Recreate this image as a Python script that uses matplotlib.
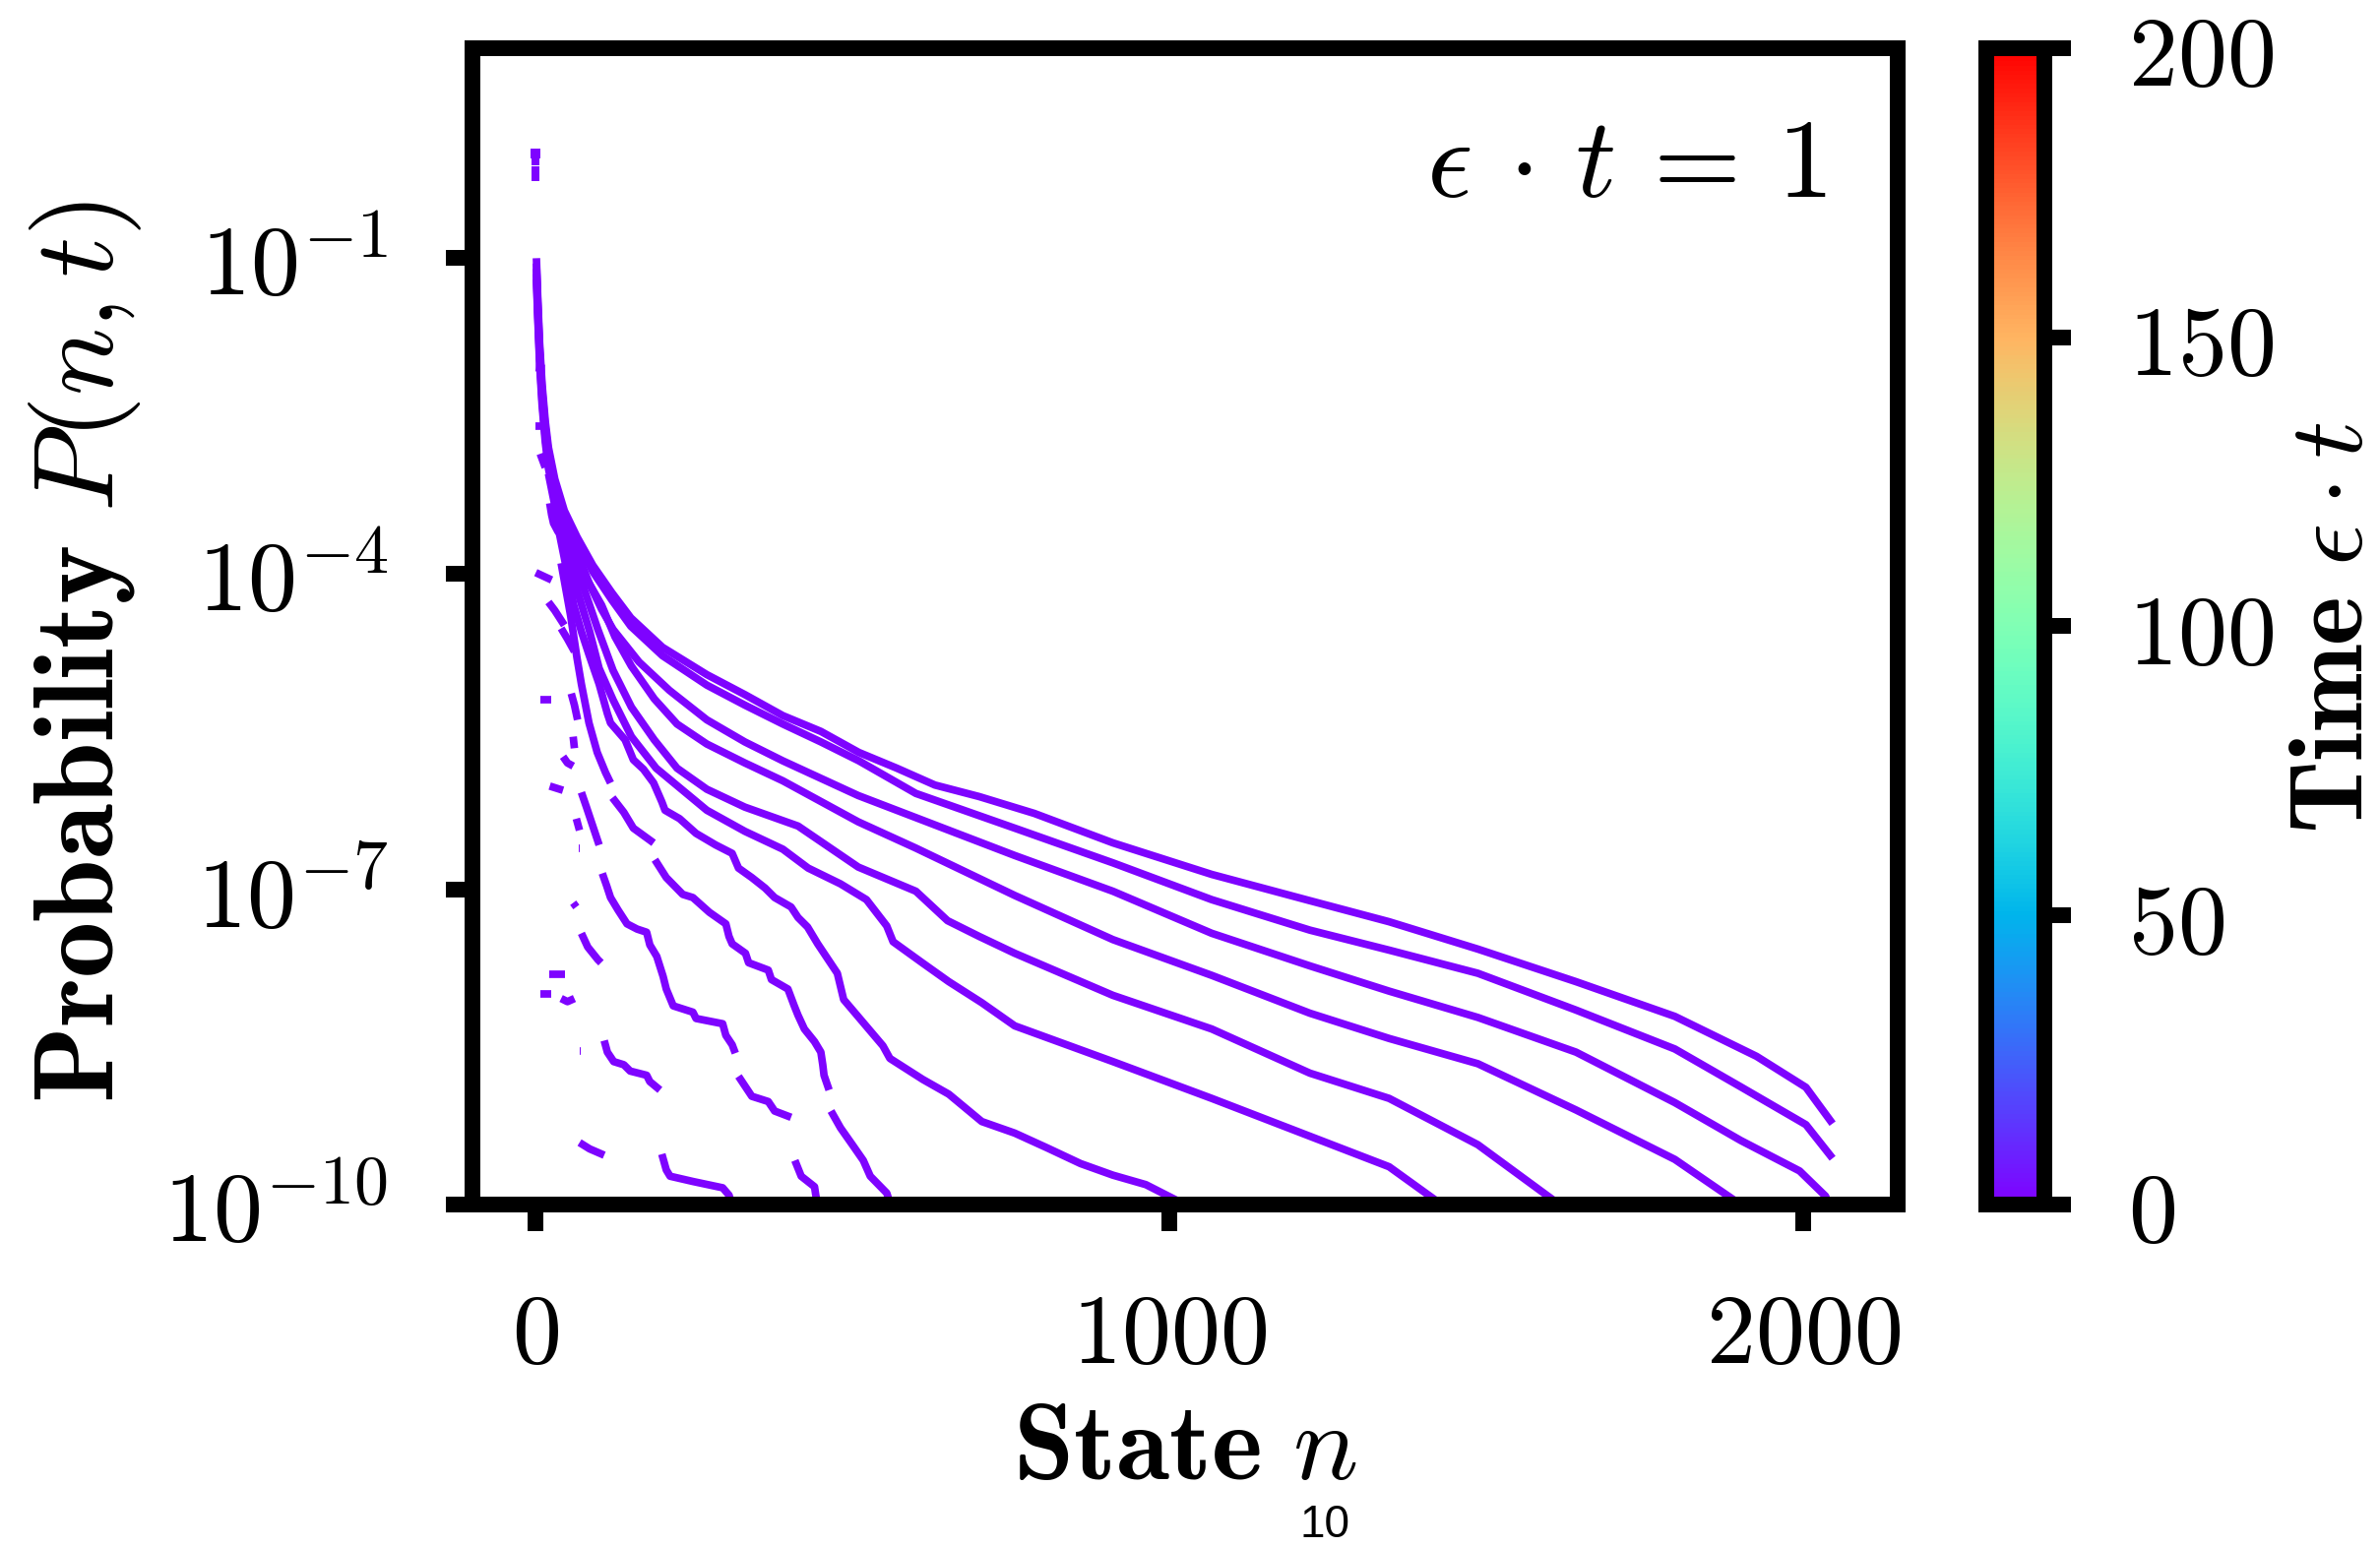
import numpy as np
import matplotlib.pyplot as plt
from matplotlib.cm import ScalarMappable
from matplotlib.colors import Normalize

plt.rcParams['mathtext.fontset'] = 'cm'
plt.rcParams['font.family'] = ['DejaVu Serif']

# time of the snapshot and colour scale range
t_snapshot = 1
t_min, t_max = 0, 200

# curves: (state n, log10 P); None marks a gap between points
curve_a = [(1, -1.0), (3, -1.35), (6, -1.8), (10, -2.2), (15, -2.55), (20, -2.8), (30, -3.1),
           (45, -3.4), (65, -3.65), (90, -3.92), (120, -4.18), (150, -4.42), (200, -4.7), (270, -4.96),
           (330, -5.15), (390, -5.35), (450, -5.5), (510, -5.7), (570, -5.85), (630, -6.01), (700, -6.12),
           (787, -6.28), (911, -6.56), (1067, -6.86), (1222, -7.11), (1347, -7.31), (1487, -7.57),
           (1642, -7.88), (1798, -8.21), (1927, -8.59), (2005, -8.885), (2047, -9.23)]
curve_b = [(1, -1.05), (3, -1.4), (6, -1.85), (10, -2.25), (15, -2.6), (20, -2.85), (30, -3.15),
           (45, -3.45), (65, -3.7), (90, -3.98), (120, -4.25), (150, -4.5), (200, -4.78), (270, -5.06),
           (330, -5.25), (390, -5.43), (450, -5.6), (510, -5.78), (600, -6.09), (756, -6.42), (911, -6.75),
           (1067, -7.1), (1222, -7.39), (1347, -7.58), (1487, -7.8), (1642, -8.15), (1798, -8.52),
           (1902, -8.88), (2005, -9.24), (2047, -9.56)]
curve_c = [(1, -1.1), (3, -1.45), (6, -1.9), (10, -2.3), (15, -2.65), (20, -2.9), (30, -3.2),
           (45, -3.5), (65, -3.8), (85, -4.1), (104, -4.34), (122, -4.53), (163, -4.84), (211, -5.11),
           (270, -5.39), (330, -5.6), (390, -5.78), (509, -6.11), (600, -6.32), (756, -6.68), (911, -7.02),
           (1067, -7.42), (1222, -7.73), (1347, -7.97), (1487, -8.22), (1642, -8.55), (1798, -9.03),
           (1902, -9.39), (1995, -9.68), (2036, -9.92), (2047, -10.1)]
curve_d = [(1, -1.15), (3, -1.5), (6, -1.95), (10, -2.35), (15, -2.7), (20, -2.95), (30, -3.25),
           (45, -3.6), (65, -3.9), (85, -4.1), (104, -4.3), (125, -4.6), (151, -4.88), (187, -5.19),
           (223, -5.43), (270, -5.62), (330, -5.8), (390, -5.97), (509, -6.36), (600, -6.61), (756, -7.06),
           (911, -7.48), (1067, -7.82), (1222, -8.18), (1347, -8.42), (1487, -8.66), (1642, -9.1),
           (1798, -9.57), (1902, -10.0)]
curve_e = [(1, -1.2), (3, -1.55), (6, -2.0), (10, -2.4), (15, -2.75), (20, -3.0), (30, -3.3), (45, -3.65),
           (65, -3.95), (85, -4.3), (98, -4.53), (122, -4.92), (151, -5.27), (187, -5.58), (223, -5.85),
           (270, -6.05), (330, -6.22), (414, -6.4), (509, -6.79), (600, -7.02), (650, -7.3), (700, -7.45),
           (756, -7.61), (911, -8.01), (1067, -8.33), (1222, -8.75), (1347, -8.99), (1487, -9.43),
           (1616, -10.0)]
curve_f = [(20, -3.05), (30, -3.35), (45, -3.75), (65, -4.15), (85, -4.55), (100, -4.9), (122, -5.2),
           (151, -5.55), (190, -5.85), (230, -6.05), (270, -6.25), (330, -6.45), (390, -6.62), (430, -6.8),
           (481, -6.95), (522, -7.1), (554, -7.35), (564, -7.5), (610, -7.7), (652, -7.88), (704, -8.08),
           (756, -8.3), (911, -8.64), (1067, -8.99), (1222, -9.35), (1347, -9.64), (1430, -10.0)]
curve_g = [(30, -3.4), (45, -3.85), (60, -4.3), (72, -4.55), (84, -4.77), (100, -5.05), (113, -5.33),
           (118, -5.42), (141, -5.58), (154, -5.77), (170, -5.86), (186, -5.99), (199, -6.17), (204, -6.25),
           (227, -6.33), (253, -6.47), (284, -6.58), (310, -6.66), (320, -6.8), (341, -6.89), (362, -6.99),
           (377, -7.08), (403, -7.17), (414, -7.27), (429, -7.36), (445, -7.52), (476, -7.8), (486, -8.05),
           (517, -8.27), (548, -8.49), (559, -8.61), (611, -8.81), (652, -8.95), (704, -9.21), (756, -9.32),
           (807, -9.46), (860, -9.61), (911, -9.72), (963, -9.81), (1025, -10.0)]
curve_h = [(40, -3.9), (55, -4.4), (65, -4.8), (72, -5.05), (84, -5.42), (97, -5.7), (110, -5.89),
           (118, -5.99), None, (121, -6.13), (139, -6.27), (154, -6.42), (186, -6.56), None, (188, -6.72),
           (206, -6.89), (232, -7.05), (248, -7.08), (274, -7.22), (300, -7.33), (305, -7.45), (310, -7.52),
           (331, -7.61), (336, -7.7), (367, -7.77), (372, -7.86), (398, -7.95), (408, -8.11), (414, -8.2),
           (424, -8.33), (440, -8.45), (450, -8.55), (453, -8.67), (455, -8.77), (463, -8.91), None,
           (466, -9.11), (481, -9.27), (502, -9.45), (517, -9.58), (528, -9.73), (554, -9.89), (560, -10.0)]
curve_i = [(72, -6.08), (80, -6.22), (90, -6.4), (100, -6.58), None, (105, -6.85), (112, -6.97),
           (118, -7.08), (130, -7.2), (144, -7.33), (160, -7.38), (175, -7.41), (180, -7.53), (191, -7.64),
           (201, -7.83), (206, -7.95), (217, -8.11), (248, -8.17), (253, -8.23), (295, -8.28), (300, -8.39),
           (310, -8.48), (315, -8.56), None, (320, -8.78), (341, -8.97), (367, -9.02), (377, -9.11),
           (403, -9.17), None, (406, -9.28), None, (409, -9.58), (419, -9.73), (440, -9.83), (442, -9.91),
           (445, -10.0)]
curve_j = [(72, -7.42), (82, -7.55), (98, -7.67), (103, -7.7), None, (108, -8.44), (113, -8.55),
           (123, -8.64), (139, -8.67), (149, -8.73), (175, -8.77), (180, -8.83), (196, -8.91), None,
           (199, -9.52), (206, -9.67), (212, -9.73), (248, -9.78), (295, -9.84), (305, -9.91), (310, -10.0)]

# short isolated pieces near n = 0
fragments = [
    [(0, -2.04), (14, -2.05)], [(0, -2.6), (12, -2.6)], [(7, -2.86), (15, -2.99)],
    [(22, -3.33), (25, -3.44), (28, -3.52), (35, -3.6), (40, -3.63)],
    [(0, -3.99), (25, -4.06)], [(20, -4.27), (30, -4.35), (45, -4.49)], [(40, -4.52), (50, -4.62), (61, -4.74)],
    [(7, -5.2), (25, -5.2)], [(56, -5.14), (61, -5.25), (66, -5.39)], [(59, -5.55), (61, -5.66)],
    [(43, -5.74), (50, -5.8), (59, -5.83)], [(22, -6.02), (43, -6.06)], [(64, -6.33), (69, -6.44)],
    [(68, -6.61), (70, -6.61)], [(59, -7.13), (64, -7.17)], [(22, -7.81), (46, -7.81)],
    [(7, -8.0), (25, -8.0)], [(40, -8.04), (50, -8.07), (61, -8.04)], [(69, -8.54), (71, -8.54)],
    [(69, -9.41), (85, -9.47), (108, -9.53)],
]

# values at n = 0
start_logp = [0.0, -0.08, -0.16, -0.23]

x_ticks = [0, 1000, 2000]
x_ticklabels = [r'$0$', r'$1000$', r'$2000$']
y_ticks = [1e-1, 1e-4, 1e-7, 1e-10]
y_ticklabels = [r'$10^{-1}$', r'$10^{-4}$', r'$10^{-7}$', r'$10^{-10}$']
cb_ticks = [0, 50, 100, 150, 200]
cb_ticklabels = [r'$0$', r'$50$', r'$100$', r'$150$', r'$200$']


def to_arrays(points):
    pts = np.array([(np.nan, np.nan) if p is None else p for p in points], dtype=float)
    return pts[:, 0], 10 ** pts[:, 1]


cmap = plt.get_cmap('rainbow')
norm = Normalize(t_min, t_max)
color = cmap(norm(t_snapshot))

fig = plt.figure(figsize=(8.06, 5.243), dpi=300)
ax = fig.add_axes([0.1985, 0.2212, 0.5989, 0.7473])
cax = fig.add_axes([0.8346, 0.2212, 0.0244, 0.7473])

for curve in [curve_a, curve_b, curve_c, curve_d, curve_e, curve_f, curve_g, curve_h, curve_i, curve_j]:
    n, p = to_arrays(curve)
    ax.plot(n, p, color=color, lw=1.85, solid_capstyle='butt')
for frag in fragments:
    n, p = to_arrays(frag)
    ax.plot(n, p, color=color, lw=1.85, solid_capstyle='butt')
ax.plot([0] * len(start_logp), [10 ** v for v in start_logp], 's', color=color, ms=1.7, mew=0)
ax.plot([0], [1.0], 's', color=color, ms=2.6, mew=0)

ax.set_yscale('log')
ax.set_xlim(-100, 2150)
ax.set_ylim(1e-10, 1e1)
ax.set_xticks(x_ticks)
ax.set_xticklabels(x_ticklabels)
ax.set_yticks(y_ticks)
ax.set_yticklabels(y_ticklabels)
ax.minorticks_off()
ax.tick_params(which='major', direction='out', length=6.5, width=3.84, pad=14, labelsize=24)
for s in ax.spines.values():
    s.set_linewidth(3.84)

ax.set_xlabel(r'$\mathbf{State}\ n$', fontsize=26.5, labelpad=3)
ax.set_ylabel(r'$\mathbf{Probability}\ P(n,t)$', fontsize=27.5)
ax.yaxis.set_label_coords(-0.2303, 0.478)
ax.text(0.9496, 0.872, r'$\epsilon \,\cdot\, t \,=\, 1$', transform=ax.transAxes, ha='right',
        va='baseline', fontsize=27.5)

sm = ScalarMappable(norm=norm, cmap=cmap)
cb = fig.colorbar(sm, cax=cax)
cb.set_ticks(cb_ticks)
cb.set_ticklabels(cb_ticklabels)
cb.outline.set_linewidth(3.84)
cb.ax.tick_params(length=6.5, width=3.84, pad=14, labelsize=24)
cb.set_label(r'$\mathbf{Time}\ \epsilon \cdot t$', fontsize=25.5, labelpad=2)

fig.text(0.5567, 0.0146, '10', fontsize=11, family='Liberation Sans', ha='center', va='center')

fig.savefig('out.png', dpi=300)
